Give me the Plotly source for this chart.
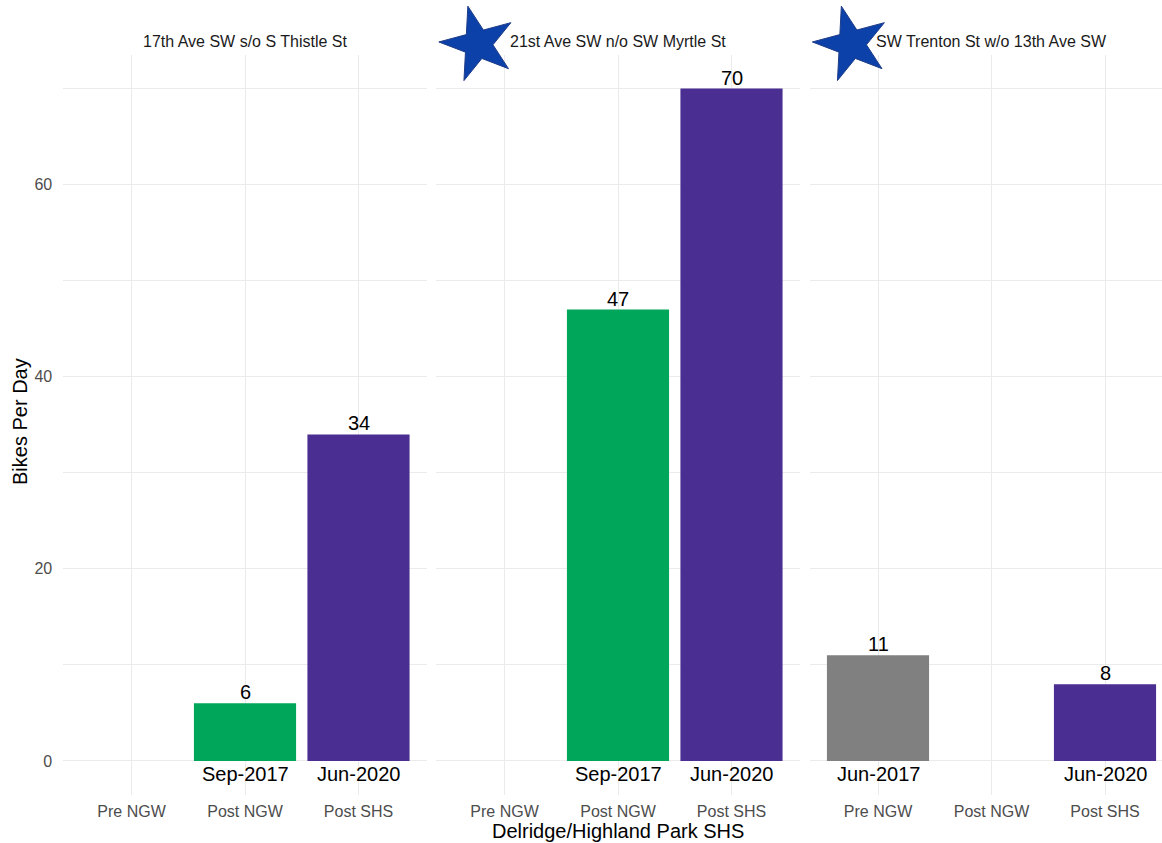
import plotly.graph_objects as go

# ---- data ----
categories = ["Pre NGW", "Post NGW", "Post SHS"]
panel_titles = ["17th Ave SW s/o S Thistle St",
                "21st Ave SW n/o SW Myrtle St",
                "SW Trenton St w/o 13th Ave SW"]
values_p1 = [None, 6, 34]
values_p2 = [None, 47, 70]
values_p3 = [11, None, 8]
dates_p1 = ["", "Sep-2017", "Jun-2020"]
dates_p2 = ["", "Sep-2017", "Jun-2020"]
dates_p3 = ["Jun-2017", "", "Jun-2020"]
starred = [False, True, True]
x_title = "Delridge/Highland Park SHS"
y_title = "Bikes Per Day"
y_ticks = [0, 20, 40, 60]

cat_colors = {"Pre NGW": "#808080", "Post NGW": "#00A65A", "Post SHS": "#4B2E91"}

W, H = 1162, 843
FONT = "Liberation Sans, Arial, sans-serif"
GRID = "#EBEBEB"

# panel pixel geometry
panel_left = [63.4, 436.4, 809.9]
unit = 113.5
panel_top, panel_bot = 55.0, 794.6

fig = go.Figure()
values = [values_p1, values_p2, values_p3]
dates = [dates_p1, dates_p2, dates_p3]

for i in range(3):
    ax = "" if i == 0 else str(i + 1)
    xa, ya = "x" + ax, "y" + ax
    fig.add_trace(go.Bar(
        x=categories, y=values[i], width=0.9,
        marker=dict(color=[cat_colors[c] for c in categories], line=dict(width=0)),
        xaxis=xa, yaxis=ya, showlegend=False, hoverinfo="skip"))

    for c, v, d in zip(categories, values[i], dates[i]):
        if v is not None:
            fig.add_annotation(x=c, y=v, xref=xa, yref=ya, text=str(v),
                               showarrow=False, yanchor="bottom", yshift=-2,
                               font=dict(size=20, color="black", family=FONT))
        if d:
            fig.add_annotation(x=c, y=0, xref=xa, yref=ya, text=d,
                               showarrow=False, yanchor="top", yshift=0,
                               font=dict(size=20, color="black", family=FONT))

    left = panel_left[i]
    right = min(left + 3.2 * unit, W)
    rng_hi = -0.6 + (right - left) / unit
    fig.layout["xaxis" + ax] = dict(
        domain=[left / W, right / W], anchor=ya,
        type="category", categoryorder="array", categoryarray=categories,
        range=[-0.6, rng_hi], showgrid=True, gridcolor=GRID, gridwidth=1,
        zeroline=False, showline=False, ticks="outside", ticklen=2,
        tickcolor="rgba(0,0,0,0)",
        tickfont=dict(size=16, color="#4D4D4D", family=FONT))
    fig.layout["yaxis" + ax] = dict(
        domain=[1 - panel_bot / H, 1 - panel_top / H], anchor=xa,
        range=[-3.5, 73.5], tickvals=y_ticks, showgrid=True, gridcolor=GRID,
        gridwidth=1, zeroline=False, showline=False,
        minor=dict(dtick=10, tick0=0, showgrid=True, gridcolor=GRID, gridwidth=1),
        showticklabels=(i == 0), ticks="outside" if i == 0 else "", ticklen=7,
        tickcolor="rgba(0,0,0,0)",
        tickfont=dict(size=16, color="#4D4D4D", family=FONT))

    cx = (left + left + 3.2 * unit) / 2
    fig.add_annotation(x=cx / W, y=1 - 42 / H, xref="paper", yref="paper",
                       text=panel_titles[i], showarrow=False,
                       font=dict(size=16, color="#1A1A1A", family=FONT),
                       xanchor="center", yanchor="middle")

# decorative stars on an overlay pixel axis
star_x = [panel_left[i] + 3.2 * unit / 2 - 140 for i in range(3) if starred[i]]
fig.add_trace(go.Scatter(
    x=star_x, y=[44] * len(star_x), mode="markers",
    marker=dict(symbol="star", size=56, angle=-15, color="#0B41A8",
                line=dict(color="#1F3C88", width=1)),
    xaxis="x4", yaxis="y4", showlegend=False, hoverinfo="skip", cliponaxis=False))
fig.layout["xaxis4"] = dict(domain=[0, 1], range=[0, W], visible=False, fixedrange=True,
                            anchor="y4")
fig.layout["yaxis4"] = dict(domain=[0, 1], range=[H, 0], visible=False, fixedrange=True,
                            anchor="x4")

# axis titles
fig.add_annotation(x=618 / W, y=1 - 831 / H, xref="paper", yref="paper",
                   text=x_title, showarrow=False,
                   font=dict(size=20, color="black", family=FONT),
                   xanchor="center", yanchor="middle")
fig.add_annotation(x=20 / W, y=1 - 422 / H, xref="paper", yref="paper",
                   text=y_title, showarrow=False, textangle=-90,
                   font=dict(size=20, color="black", family=FONT),
                   xanchor="center", yanchor="middle")

fig.update_layout(width=W, height=H, margin=dict(l=0, r=0, t=0, b=0),
                  plot_bgcolor="rgba(0,0,0,0)", paper_bgcolor="white",
                  bargap=0.1, font=dict(family=FONT))

fig.write_html("out.html")
